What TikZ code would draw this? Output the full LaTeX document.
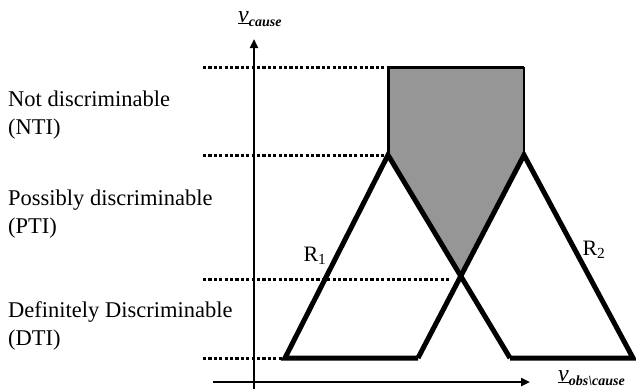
\documentclass[tikz,border=0pt]{standalone}
\usepackage{fontspec}
\setmainfont{Liberation Serif}
\usetikzlibrary{arrows.meta, positioning}
\definecolor{regiongray}{HTML}{969696}
\tikzset{
  levelline/.style={line width=3pt, dash pattern=on 3.2pt off 2.2pt},
  regionline/.style={line width=5pt, miter limit=10},
  axisline/.style={line width=2.5pt, -{Triangle[length=9pt,width=8pt]}},
  leveltext/.style={anchor=west, align=left, inner sep=0pt, font=\fontsize{22.5}{28.5}\selectfont},
  rlabel/.style={inner sep=0pt, font=\fontsize{22}{22}\selectfont},
  axislabel/.style={inner sep=0pt, font=\fontsize{24}{24}\selectfont}
}
\begin{document}
\begin{tikzpicture}[x=1pt,y=-1pt]
  \useasboundingbox (0,0) rectangle (636,389);
  % Grauer Bereich (NTI)
  \fill[regiongray] (388,67)--(524,67)--(524,155)--(461,276)--(388,155)--cycle;
  \draw[line width=3pt] (388,155)--(388,67)--(524,67);
  \draw[line width=2.2pt] (524,67)--(524,155);
  % Schwellen
  \draw[levelline] (203,67)--(388,67);
  \draw[levelline] (203,155)--(388,155);
  \draw[levelline] (203,279)--(450,279);
  \draw[levelline] (203,358)--(285,358);
  % Achsen
  \draw[axisline] (254,389)--(254,39);
  \draw[axisline] (213,382)--(530,382);
  % Bereiche R1 und R2
  \draw[regionline] (418,358)--(285,358)--(388,155)--(510,358);
  \draw[regionline] (510,358)--(633,358)--(524,155)--(418,358);
  \node[rlabel] (r1) at (315,256) {R\textsubscript{1}};
  \node[rlabel] (r2) at (594,250) {R\textsubscript{2}};
  % Beschriftungen
  \node[leveltext] (nti) at (8,115) {Not discriminable\\(NTI)};
  \node[leveltext] (pti) at (8,214) {Possibly discriminable\\(PTI)};
  \node[leveltext] (dti) at (8,326) {Definitely Discriminable\\(DTI)};
  \node[axislabel, anchor=base west] (vcause) at (238,22)
    {\underline{\textit{v}}\raisebox{-4pt}{\fontsize{14}{14}\selectfont\bfseries\itshape cause}};
  \node[axislabel, anchor=base west] (vobs) at (558,381)
    {\underline{\textit{v}}\raisebox{-4pt}{\fontsize{14}{14}\selectfont\bfseries\itshape obs\textbackslash cause}};
\end{tikzpicture}
\end{document}
